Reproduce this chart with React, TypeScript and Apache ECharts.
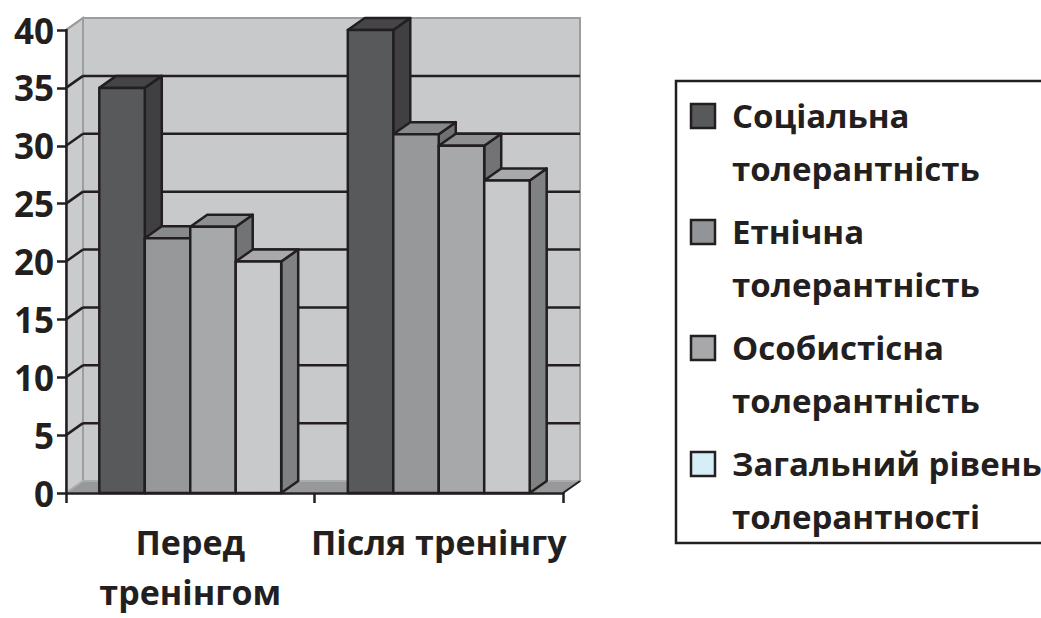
import React, { useEffect, useRef } from "react";
import * as echarts from "echarts";

const categories = ["Перед\nтренінгом", "Після тренінгу"];
const seriesNames = [
  "Соціальна\nтолерантність",
  "Етнічна\nтолерантність",
  "Особистісна\nтолерантність",
  "Загальний рівень\nтолерантності",
];
const socialValues = [35, 40];
const ethnicValues = [22, 31];
const personalValues = [23, 30];
const generalValues = [20, 27];
const yTicks = [0, 5, 10, 15, 20, 25, 30, 35, 40];

const seriesValues = [socialValues, ethnicValues, personalValues, generalValues];
const frontColors = ["#58595b", "#97989a", "#a6a8aa", "#c8c9cb"];
const topColors = ["#454547", "#88898b", "#8e8f91", "#a8a9ab"];
const sideColors = ["#404042", "#6f7072", "#727375", "#808183"];
const legendColors = ["#58595b", "#929497", "#a6a8aa", "#d6eff6"];

const INK = "#231f20";
const DX = 17;
const DY = -12;
const FONT = "'Open Sans', 'Noto Sans', sans-serif";

export default function App() {
  const ref = useRef<HTMLDivElement>(null);
  useEffect(() => {
    if (!ref.current) return;
    const chart = echarts.init(ref.current, null, { renderer: "svg" });

    const wallSeries = {
      type: "custom",
      z: 1,
      silent: true,
      data: [[0, 0]],
      encode: { x: 0, y: 1 },
      renderItem: (params: any, api: any) => {
        const cs = params.coordSys;
        const x0 = cs.x;
        const x1 = cs.x + cs.width;
        const y0 = api.coord([0, 0])[1];
        const yTop = api.coord([0, yTicks[yTicks.length - 1]])[1];
        const children: any[] = [];
        children.push({
          type: "rect",
          shape: { x: x0 + DX, y: yTop + DY, width: x1 - x0, height: y0 - yTop },
          style: { fill: "#c8c9cb", stroke: "#9c9d9f", lineWidth: 2 },
        });
        children.push({
          type: "polygon",
          shape: {
            points: [
              [x0, y0],
              [x0, yTop],
              [x0 + DX, yTop + DY],
              [x0 + DX, y0 + DY],
            ],
          },
          style: { fill: "#cacbcd", stroke: "#9c9d9f", lineWidth: 2 },
        });
        children.push({
          type: "polygon",
          shape: {
            points: [
              [x0, y0],
              [x1, y0],
              [x1 + DX, y0 + DY],
              [x0 + DX, y0 + DY],
            ],
          },
          style: { fill: "#97989a", stroke: "#b0b1b3", lineWidth: 1.5 },
        });
        children.push({
          type: "line",
          shape: { x1: x1, y1: y0, x2: x1 + DX, y2: y0 + DY },
          style: { stroke: INK, lineWidth: 2 },
        });
        yTicks.forEach((t) => {
          if (t === 0 || t === yTicks[yTicks.length - 1]) return;
          const y = api.coord([0, t])[1];
          children.push({
            type: "line",
            shape: { x1: x0 + DX, y1: y + DY, x2: x1 + DX, y2: y + DY },
            style: { stroke: INK, lineWidth: 2.5 },
          });
          children.push({
            type: "line",
            shape: { x1: x0, y1: y, x2: x0 + DX, y2: y + DY },
            style: { stroke: INK, lineWidth: 2.5 },
          });
        });
        children.push({
          type: "line",
          shape: { x1: x0, y1: yTop, x2: x0 + DX, y2: yTop + DY },
          style: { stroke: "#9c9d9f", lineWidth: 2 },
        });
        return { type: "group", children };
      },
    };

    const barSeries = seriesValues.map((vals, s) => ({
      type: "custom",
      name: seriesNames[s],
      z: 2,
      data: vals.map((v, i) => [i, v]),
      encode: { x: 0, y: 1 },
      renderItem: (params: any, api: any) => {
        const ci = api.value(0);
        const v = api.value(1);
        const top = api.coord([ci, v]);
        const base = api.coord([ci, 0]);
        const band = api.size([1, 0])[0];
        const bw = (band * 0.732) / 4;
        const xl = top[0] - 2 * bw + s * bw;
        const xr = xl + bw;
        const yt = top[1];
        const yb = base[1];
        const st = { stroke: INK, lineWidth: 2.5, lineJoin: "round" };
        return {
          type: "group",
          children: [
            {
              type: "polygon",
              shape: {
                points: [
                  [xr, yt],
                  [xr + DX, yt + DY],
                  [xr + DX, yb + DY],
                  [xr, yb],
                ],
              },
              style: { fill: sideColors[s], ...st },
            },
            {
              type: "polygon",
              shape: {
                points: [
                  [xl, yt],
                  [xl + DX, yt + DY],
                  [xr + DX, yt + DY],
                  [xr, yt],
                ],
              },
              style: { fill: topColors[s], ...st },
            },
            {
              type: "rect",
              shape: { x: xl, y: yt, width: bw, height: yb - yt },
              style: { fill: frontColors[s], ...st },
            },
          ],
        };
      },
    }));

    const legendGraphics: any[] = [
      {
        type: "rect",
        shape: { x: 676, y: 81, width: 420, height: 462 },
        style: { fill: "#ffffff", stroke: INK, lineWidth: 2.5 },
        z: 0,
      },
    ];
    seriesNames.forEach((name, i) => {
      const cy = 116 + i * 116;
      legendGraphics.push({
        type: "rect",
        shape: { x: 691, y: cy - 12, width: 24, height: 24 },
        style: { fill: legendColors[i], stroke: INK, lineWidth: 2.5 },
        z: 1,
      });
      legendGraphics.push({
        type: "text",
        x: 732,
        y: cy - 27,
        z: 1,
        style: {
          text: name,
          font: `bold 33px ${FONT}`,
          fill: INK,
          lineHeight: 53,
          verticalAlign: "top",
          align: "left",
        },
      });
    });

    chart.setOption({
      animation: false,
      backgroundColor: "#ffffff",
      grid: {
        left: 66,
        top: 30,
        width: 497,
        height: 463,
        containLabel: false,
        outerBoundsMode: "none",
      },
      xAxis: {
        type: "category",
        data: categories,
        z: 10,
        axisLine: { show: true, lineStyle: { color: INK, width: 2.5 } },
        axisTick: { show: true, length: 10, lineStyle: { color: INK, width: 2.5 } },
        axisLabel: {
          color: INK,
          fontFamily: FONT,
          fontWeight: "bold",
          fontSize: 34,
          lineHeight: 50,
          margin: 24,
          interval: 0,
        },
      },
      yAxis: {
        type: "value",
        min: 0,
        max: 40,
        interval: 5,
        z: 10,
        axisLine: { show: true, lineStyle: { color: INK, width: 2.5 } },
        axisTick: { show: true, length: 9, lineStyle: { color: INK, width: 2.5 } },
        axisLabel: {
          color: INK,
          fontFamily: FONT,
          fontWeight: "bold",
          fontSize: 35,
          margin: 12,
        },
        splitLine: { show: false },
      },
      graphic: legendGraphics,
      series: [wallSeries, ...barSeries],
    });
    return () => chart.dispose();
  }, []);
  return (
    <div
      ref={ref}
      style={{ position: "fixed", left: 0, top: 0, width: 1041, height: 618 }}
    />
  );
}
